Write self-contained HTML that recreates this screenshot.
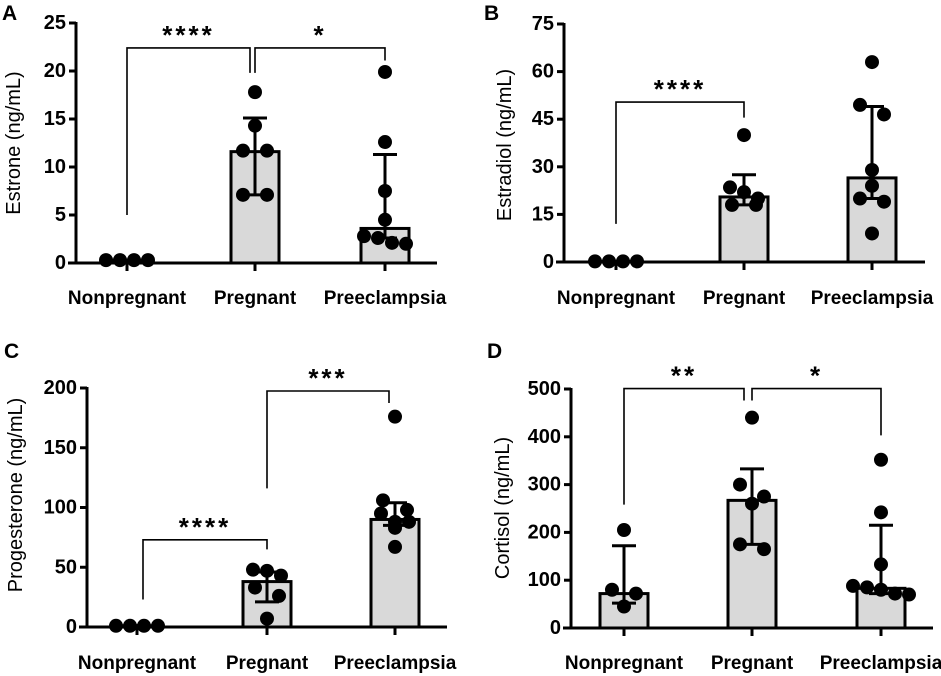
<!DOCTYPE html>
<html><head><meta charset="utf-8">
<style>
html,body{margin:0;padding:0;background:#fff;}
svg{display:block;font-family:"Liberation Sans",Arial,sans-serif;}
</style></head>
<body>
<svg id="fig" width="941" height="676" viewBox="0 0 941 676" xmlns="http://www.w3.org/2000/svg"></svg>
<script>
const categories = ["Nonpregnant","Pregnant","Preeclampsia"];

const A_title = "Estrone (ng/mL)";
const A_ticks = [0,5,10,15,20,25];
const A_bars = [0.3, 11.6, 3.6];
const A_errLow = [0.3, 7.1, 2.6];
const A_errHigh = [0.3, 15.1, 11.3];
const A_points = [[0.3,0.3,0.3,0.3],[17.8,14.3,11.7,11.7,7.1,7.1],[19.9,12.6,7.5,4.5,2.8,2.6,2.0,2.1]];
const A_sig = [{from:0,to:1,y:22.4,l:5,r:19.8,label:"****",fx:0,tx:-5},{from:1,to:2,y:22.4,l:19.8,r:21.1,label:"*",fx:0,tx:0}];

const B_title = "Estradiol (ng/mL)";
const B_ticks = [0,15,30,45,60,75];
const B_bars = [0.2, 20.5, 26.5];
const B_errLow = [0.2, 18, 20];
const B_errHigh = [0.2, 27.5, 49];
const B_points = [[0.2,0.2,0.2,0.2],[40,22,23.5,20,18,18],[63,49.5,46.5,29,24,20,19,9]];
const B_sig = [{from:0,to:1,y:50.4,l:12,r:45.5,label:"****",fx:0,tx:0}];

const C_title = "Progesterone (ng/mL)";
const C_ticks = [0,50,100,150,200];
const C_bars = [1, 38, 90];
const C_errLow = [1, 21, 85];
const C_errHigh = [1, 46, 104];
const C_points = [[1,1,1,1],[48,47,43,33,26,7],[176,106,98,95,88,88,83,67]];
const C_sig = [{from:0,to:1,y:73,l:23,r:65,label:"****",fx:6,tx:0},{from:1,to:2,y:197.5,l:116,r:187.5,label:"***",fx:0,tx:-6}];

const D_title = "Cortisol (ng/mL)";
const D_ticks = [0,100,200,300,400,500];
const D_bars = [72, 267, 83];
const D_errLow = [52, 175, 72];
const D_errHigh = [172, 333, 215];
const D_points = [[205,80,72,45],[440,300,275,260,175,165],[352,242,133,88,85,80,72,70]];
const D_sig = [{from:0,to:1,y:501,l:258,r:476,label:"**",fx:0,tx:-8},{from:1,to:2,y:501,l:476,r:403,label:"*",fx:0,tx:0}];

const panels = [
 {id:"a",letter:"A",lx:2,ly:20,ax:76,y0:263,ytop:23,xEnd:437,centers:[127,255,385],title:A_title,tx:14,ty:143,ticks:A_ticks,bars:A_bars,lo:A_errLow,hi:A_errHigh,pts:A_points,sig:A_sig,laby:304},
 {id:"b",letter:"B",lx:484,ly:20,ax:564,y0:262,ytop:24,xEnd:925,centers:[616,744,872],title:B_title,tx:505,ty:145,ticks:B_ticks,bars:B_bars,lo:B_errLow,hi:B_errHigh,pts:B_points,sig:B_sig,laby:304},
 {id:"c",letter:"C",lx:4,ly:358,ax:87,y0:627,ytop:388,xEnd:447,centers:[137,267,395],title:C_title,tx:16,ty:495,ticks:C_ticks,bars:C_bars,lo:C_errLow,hi:C_errHigh,pts:C_points,sig:C_sig,laby:669},
 {id:"d",letter:"D",lx:487,ly:358,ax:571,y0:628,ytop:389,xEnd:933,centers:[624,752,881],title:D_title,tx:503,ty:508,ticks:D_ticks,bars:D_bars,lo:D_errLow,hi:D_errHigh,pts:D_points,sig:D_sig,laby:669}
];

const NS="http://www.w3.org/2000/svg";
const svg=document.getElementById("fig");
function mk(tag,attrs,parent){const e=document.createElementNS(NS,tag);for(const k in attrs)e.setAttribute(k,attrs[k]);(parent||svg).appendChild(e);return e;}

panels.forEach(p=>{
  const g=mk("g",{});
  
  
  const vmax=p.ticks[p.ticks.length-1];
  const yS=v=>p.y0-(v/vmax)*(p.y0-p.ytop);
  const xS=i=>p.centers[i];
  const L=mk("text",{x:p.lx,y:p.ly,"font-size":21,"font-weight":"bold",fill:"#000"},g);
  L.textContent=p.letter;
  
  
  const T=mk("text",{x:0,y:0,"font-size":20,"text-anchor":"middle","dominant-baseline":"central",transform:`translate(${p.tx},${p.ty}) rotate(-90)`,fill:"#000"},g);
  T.textContent=p.title;
  
  
  p.bars.forEach((v,i)=>{
    const top=yS(v);
    const r=mk("rect",{x:xS(i)-24,y:top,width:48,height:p.y0-top,fill:"#d9d9d9",stroke:"#000","stroke-width":3},g);
    
    
  });
  const ya=mk("line",{x1:p.ax,y1:p.ytop-1,x2:p.ax,y2:p.y0,stroke:"#000","stroke-width":3},g);
  
  
  const xa=mk("line",{x1:p.ax-8,y1:p.y0,x2:p.xEnd,y2:p.y0,stroke:"#000","stroke-width":3},g);
  
  
  p.ticks.forEach(t=>{
    const y=yS(t);
    mk("line",{x1:p.ax-7,y1:y,x2:p.ax,y2:y,stroke:"#000","stroke-width":3},g);
    const tl=mk("text",{x:p.ax-10,y:y,"font-size":20,"font-weight":"bold","text-anchor":"end","dominant-baseline":"central"},g);
    tl.textContent=t;
    
    
  });
  categories.forEach((c,i)=>{
    mk("line",{x1:xS(i),y1:p.y0,x2:xS(i),y2:p.y0+8,stroke:"#000","stroke-width":3},g);
    const cl=mk("text",{x:xS(i),y:p.laby,"font-size":19,"font-weight":"bold","text-anchor":"middle"},g);
    cl.textContent=c;
    
    
  });
  p.bars.forEach((v,i)=>{
    const x=xS(i);
    const eg=mk("g",{stroke:"#000","stroke-width":3},g);
    
    
    mk("line",{x1:x,y1:yS(p.lo[i]),x2:x,y2:yS(p.hi[i])},eg);
    mk("line",{x1:x-12,y1:yS(p.lo[i]),x2:x+12,y2:yS(p.lo[i])},eg);
    mk("line",{x1:x-12,y1:yS(p.hi[i]),x2:x+12,y2:yS(p.hi[i])},eg);
  });
  const R=7;
  p.pts.forEach((arr,i)=>{
    // group points into rows of near-equal pixel y, spread each row symmetrically
    const ys=arr.map(v=>yS(v)).sort((a,b)=>a-b);
    const rows=[];
    ys.forEach(y=>{
      const last=rows[rows.length-1];
      if(last && y-last[0]<2*R-2) last.push(y); else rows.push([y]);
    });
    rows.forEach(row=>{
      const n=row.length, sp=(n===2?24:14);
      row.forEach((y,k)=>{
        const c=mk("circle",{cx:xS(i)+(k-(n-1)/2)*sp,cy:y,r:R,fill:"#000"},g);
        
        
      });
    });
  });
  p.sig.forEach(s=>{
    const x1=xS(s.from)+s.fx, x2=xS(s.to)+s.tx, y=yS(s.y);
    const b=mk("path",{d:`M${x1},${yS(s.l)} L${x1},${y} L${x2},${y} L${x2},${yS(s.r)}`,fill:"none",stroke:"#000","stroke-width":1.6},g);
    
    
    const st=mk("text",{x:(x1+x2)/2,y:y-4,"font-size":26,"font-weight":"bold","text-anchor":"middle","letter-spacing":"3"},g);
    st.textContent=s.label;
    
    
  });
});
</script>
</body></html>
